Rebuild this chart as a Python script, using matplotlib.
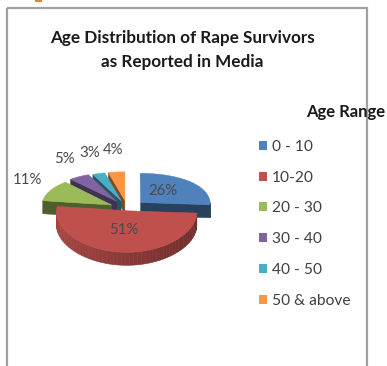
import numpy as np
import matplotlib.pyplot as plt
from matplotlib.patches import Polygon, Rectangle, Patch
from matplotlib.colors import to_rgb

title_lines = ['Age Distribution of Rape Survivors', 'as Reported in Media']
legend_title = 'Age Range'
age_ranges = ['0 - 10', '10-20', '20 - 30', '30 - 40', '40 - 50', '50 & above']
shares = [26, 51, 11, 5, 3, 4]
colors = ['#4F81BD', '#C0504D', '#9BBB59', '#8064A2', '#4BACC6', '#F79646']
explode = [0.27, 0.05, 0.25, 0.27, 0.25, 0.25]

# pie geometry in pixel space (axes spans the whole figure)
CX, CY = 127, 209
RX, RY, BEND, DEPTH = 70, 36, 5, 13

plt.rcParams['font.family'] = ['Lato', 'DejaVu Sans']


def proj(x, y, z=0.0):
    sx = CX + RX * x * (1 - 0.04 * y)
    sy = CY - RY * y + BEND * y ** 2 - DEPTH * z
    return sx, sy


def shade(col, f):
    r, g, b = to_rgb(col)
    return (r * f, g * f, b * f)


fig = plt.figure(figsize=(3.87, 3.66), dpi=100)
ax = fig.add_axes([0, 0, 1, 1])
ax.set_xlim(0, 387)
ax.set_ylim(366, 0)
ax.axis('off')

# chart frame (bottom edge is cut off)
ax.add_patch(Rectangle((7, 8), 360, 420, fill=False, ec='#A0A0A0', lw=1.6))
ax.add_patch(Rectangle((35, -3), 7, 5, fc='#E8822E', ec='none'))

total = sum(shares)
slices = []
start = 90.0
for val, col, ex in zip(shares, colors, explode):
    sweep = val / total * 360
    a1, a2 = start - sweep, start
    mid = np.radians((a1 + a2) / 2)
    ox, oy = ex * np.cos(mid), ex * np.sin(mid)
    slices.append((a1, a2, ox, oy, col, mid))
    start = a1

# far slices first
order = sorted(range(len(slices)), key=lambda i: -slices[i][3])
for i in order:
    a1, a2, ox, oy, col, mid = slices[i]
    th = np.radians(np.linspace(a1, a2, 60))
    faces = []
    # flat cut faces
    for ang, nrm in ((a1, a1 - 90), (a2, a2 + 90)):
        if np.sin(np.radians(nrm)) < -0.02:
            t = np.radians(ang)
            pts = [proj(ox, oy, 0), proj(ox + np.cos(t), oy + np.sin(t), 0),
                   proj(ox + np.cos(t), oy + np.sin(t), -1), proj(ox, oy, -1)]
            faces.append((pts, shade(col, 0.5)))
    # outer wall
    for k in range(len(th) - 1):
        tm = (th[k] + th[k + 1]) / 2
        if np.sin(tm) < 0:
            p = [proj(ox + np.cos(th[k]), oy + np.sin(th[k]), 0),
                 proj(ox + np.cos(th[k + 1]), oy + np.sin(th[k + 1]), 0),
                 proj(ox + np.cos(th[k + 1]), oy + np.sin(th[k + 1]), -1),
                 proj(ox + np.cos(th[k]), oy + np.sin(th[k]), -1)]
            faces.append((p, shade(col, 0.72 - 0.14 * np.cos(tm))))
    # top face
    top = [proj(ox, oy, 0)] + [proj(ox + np.cos(t), oy + np.sin(t), 0) for t in th]
    faces.append((top, to_rgb(col)))
    for pts, fc in faces:
        ax.add_patch(Polygon(pts, closed=True, fc=fc, ec=fc, lw=0.4))

# data labels
for (a1, a2, ox, oy, col, mid), val in zip(slices, shares):
    if val >= 20:
        x, y = proj(ox + 0.45 * np.cos(mid), oy + 0.5 * np.sin(mid))
    else:
        x, y = proj(ox + np.cos(mid), oy + np.sin(mid))
        x += 26 * np.cos(mid)
        y -= 22 * np.sin(mid)
    ax.text(x, y, f'{val}%', ha='center', va='center', fontsize=10.8,
            color='#4a4a4a')

# titles
ax.text(182, 38, title_lines[0], ha='center', va='center', fontsize=12.3,
        fontweight='bold', color='#1a1a1a')
ax.text(182, 62, title_lines[1], ha='center', va='center', fontsize=12.3,
        fontweight='bold', color='#1a1a1a')
ax.text(306, 112, legend_title, ha='left', va='center', fontsize=12,
        fontweight='bold', color='#1a1a1a')

handles = [Patch(fc=c, ec='none') for c in colors]
leg = ax.legend(handles, age_ranges, loc='upper left',
                bbox_to_anchor=(251 / 387, 1 - 132 / 366), frameon=False,
                fontsize=11.2, handlelength=0.52, handleheight=0.52,
                handletextpad=0.3, labelspacing=1.08, borderpad=0)
for t in leg.get_texts():
    t.set_color('#404040')

fig.savefig('out.png', dpi=100)
